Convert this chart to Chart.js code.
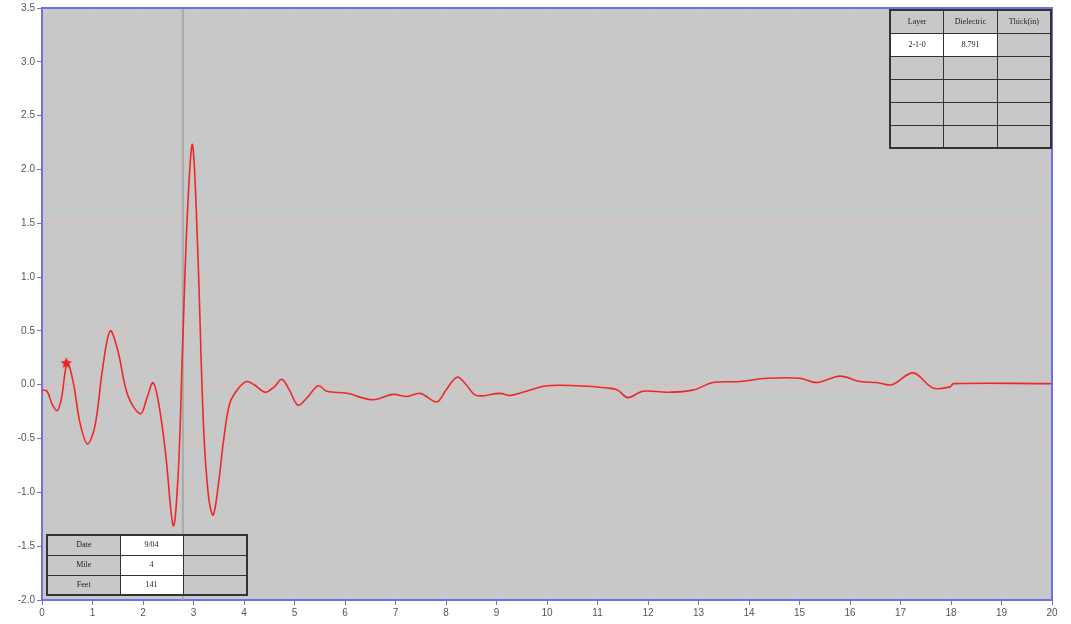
<!DOCTYPE html>
<html>
<head>
<meta charset="utf-8">
<script src="https://cdn.jsdelivr.net/npm/chart.js@4"></script>
<style>
  html, body { margin: 0; padding: 0; background: #fff; }
  #wrap { position: relative; width: 1071px; height: 624px; }
  #wrap canvas { position: absolute; left: 0; top: 0; }
  table.box {
    position: absolute; border-collapse: collapse; table-layout: fixed;
    font-family: 'Liberation Serif', 'DejaVu Serif', serif; font-size: 8px; color: #222;
    border: 2px solid #333;
  }
  table.box td { border: 1px solid #333; text-align: center; padding: 0; background: #c8c8c8; overflow: hidden; white-space: nowrap; line-height: 8px; }
  table.box td.val { background: #fff; }
  #layers { left: 889px; top: 9px; width: 163px; }
  #layers tr { height: 23px; }
  #info { left: 46px; top: 534px; width: 202px; }
  #info tr { height: 20px; }
</style>
</head>
<body>
<div id="wrap">
  <canvas id="c" width="1071" height="624"></canvas>
  <table class="box" id="layers"></table>
  <table class="box" id="info"></table>
</div>
<script>
// Trace: distance along the run and reflected amplitude
const distance = [
  0, 0.1, 0.2, 0.3, 0.38, 0.5, 0.62, 0.75, 0.9, 1.05, 1.2, 1.35, 1.5, 1.7, 1.95, 2.08, 2.2,
  2.32, 2.45, 2.6, 2.7, 2.78, 2.88, 2.98, 3.08, 3.2, 3.3, 3.39, 3.5, 3.6, 3.72, 3.88,
  4.05, 4.2, 4.42, 4.6, 4.75, 4.9, 5.07, 5.25, 5.47, 5.64, 6.04, 6.55, 6.95, 7.23, 7.49,
  7.82, 8.0, 8.22, 8.4, 8.6, 9.07, 9.27, 9.52, 10.0, 10.59, 11.19, 11.4, 11.6, 11.9,
  12.38, 12.89, 13.29, 13.82, 14.36, 15.01, 15.35, 15.8, 16.2, 16.53, 16.83, 17.25,
  17.64, 17.98, 18.05, 20
];
const amplitude = [
  -0.05, -0.06, -0.18, -0.24, -0.14, 0.2, 0.02, -0.35, -0.55, -0.38, 0.15, 0.5, 0.32, -0.1, -0.27, -0.12, 0.02,
  -0.2, -0.65, -1.31, -0.8, 0.3, 1.6, 2.23, 1.3, -0.4, -1.05, -1.21, -0.9, -0.5, -0.17, -0.04,
  0.03, 0.0, -0.07, -0.02, 0.05, -0.05, -0.19, -0.12, -0.01, -0.06, -0.08, -0.14, -0.09, -0.11, -0.08,
  -0.16, -0.05, 0.07, 0.0, -0.1, -0.08, -0.1, -0.07, -0.01, -0.01, -0.03, -0.05, -0.12, -0.06,
  -0.07, -0.05, 0.02, 0.03, 0.06, 0.06, 0.02, 0.08, 0.03, 0.02, 0.0, 0.11,
  -0.03, -0.02, 0.01, 0.01
];
// Marked pick on the trace
const pickDistance = [0.48];
const pickAmplitude = [0.2];
// Cursor position
const cursorDistance = 2.79;

// Axis ranges
const yMin = -2.0, yMax = 3.5, yStep = 0.5;
const xMin = 0, xMax = 20, xStep = 1;

// Table contents
const layerHeader = ['Layer', 'Dielectric', 'Thick(in)'];
const layerRows = [
  ['2-1-0', '8.791', ''],
  ['', '', ''],
  ['', '', ''],
  ['', '', ''],
  ['', '', '']
];
const infoLabels = ['Date', 'Mile', 'Feet'];
const infoValues = ['9/04', '4', '141'];

function fillTables() {
  const lt = document.getElementById('layers');
  let html = '<tr>' + layerHeader.map(h => '<td>' + h + '</td>').join('') + '</tr>';
  layerRows.forEach((r, i) => {
    html += '<tr>' + r.map((c, j) => '<td' + (i === 0 && j < 2 ? ' class="val"' : '') + '>' + (c || '&nbsp;') + '</td>').join('') + '</tr>';
  });
  lt.innerHTML = html;
  const it = document.getElementById('info');
  it.innerHTML = '<colgroup><col style="width:73px"><col style="width:63px"><col></colgroup>' +
    infoLabels.map((l, i) => '<tr><td>' + l + '</td><td class="val">' + infoValues[i] + '</td><td>&nbsp;</td></tr>').join('');
}
fillTables();

// Filled five-point star used for the pick marker
function makeStar(r, color) {
  const c = document.createElement('canvas');
  c.width = c.height = r * 2 + 2;
  const g = c.getContext('2d');
  g.fillStyle = color;
  g.beginPath();
  for (let i = 0; i < 10; i++) {
    const rad = i % 2 === 0 ? r : r * 0.45;
    const a = -Math.PI / 2 + i * Math.PI / 5;
    const px = r + 1 + rad * Math.cos(a), py = r + 1 + rad * Math.sin(a);
    if (i === 0) g.moveTo(px, py); else g.lineTo(px, py);
  }
  g.closePath();
  g.fill();
  return c;
}

const frame = {
  id: 'frame',
  beforeDraw(chart) {
    const { ctx, chartArea: a } = chart;
    ctx.save();
    ctx.fillStyle = '#c8c8c8';
    ctx.fillRect(a.left, a.top, a.right - a.left, a.bottom - a.top);
    ctx.restore();
  },
  beforeDatasetsDraw(chart) {
    const { ctx, chartArea: a, scales } = chart;
    const x = scales.x.getPixelForValue(cursorDistance);
    ctx.save();
    ctx.strokeStyle = 'rgba(165,165,165,0.9)';
    ctx.lineWidth = 2;
    ctx.beginPath();
    ctx.moveTo(x, a.top);
    ctx.lineTo(x, a.bottom);
    ctx.stroke();
    ctx.restore();
  },
  afterDraw(chart) {
    const { ctx, chartArea: a } = chart;
    ctx.save();
    ctx.strokeStyle = '#6f6fe6';
    ctx.lineWidth = 2;
    ctx.beginPath();
    ctx.moveTo(a.left, a.top);
    ctx.lineTo(a.right, a.top);
    ctx.lineTo(a.right, a.bottom);
    ctx.stroke();
    ctx.restore();
  }
};

const tickFont = { family: "'Liberation Sans Narrow', 'Liberation Sans', Arial, sans-serif", size: 10 };

new Chart(document.getElementById('c'), {
  type: 'scatter',
  data: {
    datasets: [
      {
        data: pickDistance.map((x, i) => ({ x, y: pickAmplitude[i] })),
        pointStyle: makeStar(6, '#f02020'),
        pointRadius: 6,
        showLine: false,
        order: 0
      },
      {
        data: distance.map((x, i) => ({ x, y: amplitude[i] })),
        showLine: true,
        borderColor: '#ee2828',
        borderWidth: 1.6,
        pointRadius: 0,
        tension: 0.35,
        fill: false,
        order: 1
      }
    ]
  },
  options: {
    responsive: false,
    animation: false,
    devicePixelRatio: 1,
    layout: { padding: { top: 8, right: 19, left: 0, bottom: 0 } },
    plugins: { legend: { display: false }, tooltip: { enabled: false } },
    scales: {
      x: {
        type: 'linear', min: xMin, max: xMax,
        ticks: { stepSize: xStep, color: '#555', font: tickFont, padding: 2, maxRotation: 0 },
        grid: { color: 'rgba(255,255,255,0.05)', tickColor: '#6f6fe6', tickLength: 5, drawOnChartArea: true },
        border: { color: '#6f6fe6', width: 2 },
        afterFit(s) { s.height = 24; }
      },
      y: {
        type: 'linear', min: yMin, max: yMax,
        ticks: { stepSize: yStep, color: '#555', font: tickFont, padding: 2, callback: v => Number(v).toFixed(1) },
        grid: { color: 'rgba(240,170,170,0.45)', tickColor: '#6f6fe6', tickLength: 5 },
        border: { color: '#6f6fe6', width: 2 },
        afterFit(s) { s.width = 42; }
      }
    }
  },
  plugins: [frame]
});
</script>
</body>
</html>
